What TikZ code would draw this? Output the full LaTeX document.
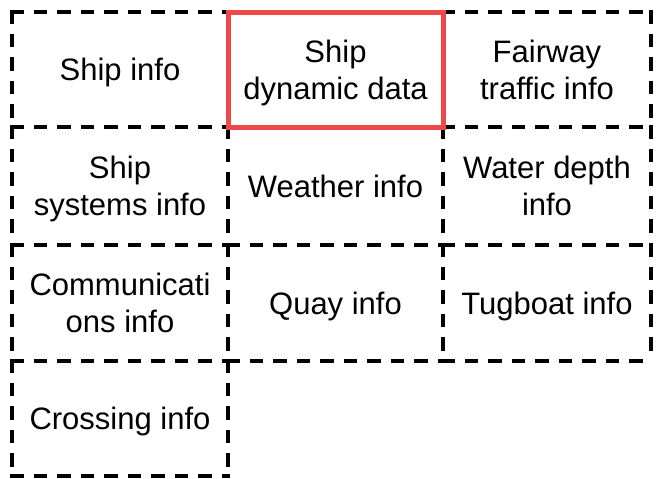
\documentclass[tikz,border=0pt]{standalone}
\usepackage{fontspec}
\setmainfont{Liberation Sans}
\definecolor{boxred}{RGB}{240,72,72}
\tikzset{
  dashside/.style={draw=black,line width=3.5pt,line cap=rect,dash pattern=on 10pt off 13.5pt},
  infobox/.style={rectangle,inner sep=0pt,outer sep=0pt,align=center,text depth=0pt,
    font=\fontsize{31}{37}\selectfont,
    append after command={
      (\tikzlastnode.north west) edge[dashside] (\tikzlastnode.north east)
      (\tikzlastnode.south west) edge[dashside] (\tikzlastnode.south east)
      (\tikzlastnode.north west) edge[dashside] (\tikzlastnode.south west)
      (\tikzlastnode.north east) edge[dashside] (\tikzlastnode.south east)}},
  mainbox/.style={rectangle,inner sep=0pt,outer sep=0pt,align=center,text depth=0pt,
    font=\fontsize{31}{37}\selectfont,draw=boxred,line width=5pt,fill=white}
}
\begin{document}
\begin{tikzpicture}[x=1pt,y=-1pt]
\useasboundingbox (0,0) rectangle (657,479);

\begin{scope}[every node/.style={infobox}]
    % first column
    \node[minimum width=216pt,minimum height=115pt] (ship) at (120,69.5) {Ship info};
    \node[minimum width=216pt,minimum height=118pt] (systems) at (120,186) {Ship\\systems info};
    \node[minimum width=216pt,minimum height=116pt] (comms) at (120,303) {Communicati\\ons info};
    \node[minimum width=216pt,minimum height=115pt] (crossing) at (120,418.5) {Crossing info};
    % second column
    \node[minimum width=215pt,minimum height=118pt] (weather) at (335.5,186) {Weather info};
    \node[minimum width=215pt,minimum height=116pt] (quay) at (335.5,303) {Quay info};
    % third column
    \node[minimum width=208pt,minimum height=115pt] (fairway) at (547,69.5) {Fairway\\traffic info};
    \node[minimum width=208pt,minimum height=118pt] (depth) at (547,186) {Water depth\\info};
    \node[minimum width=208pt,minimum height=116pt] (tugboat) at (547,303) {Tugboat info};
\end{scope}

\node[mainbox,minimum width=215pt,minimum height=115pt] (dynamic) at (335.5,69.5) {Ship\\dynamic data};
\end{tikzpicture}
\end{document}
